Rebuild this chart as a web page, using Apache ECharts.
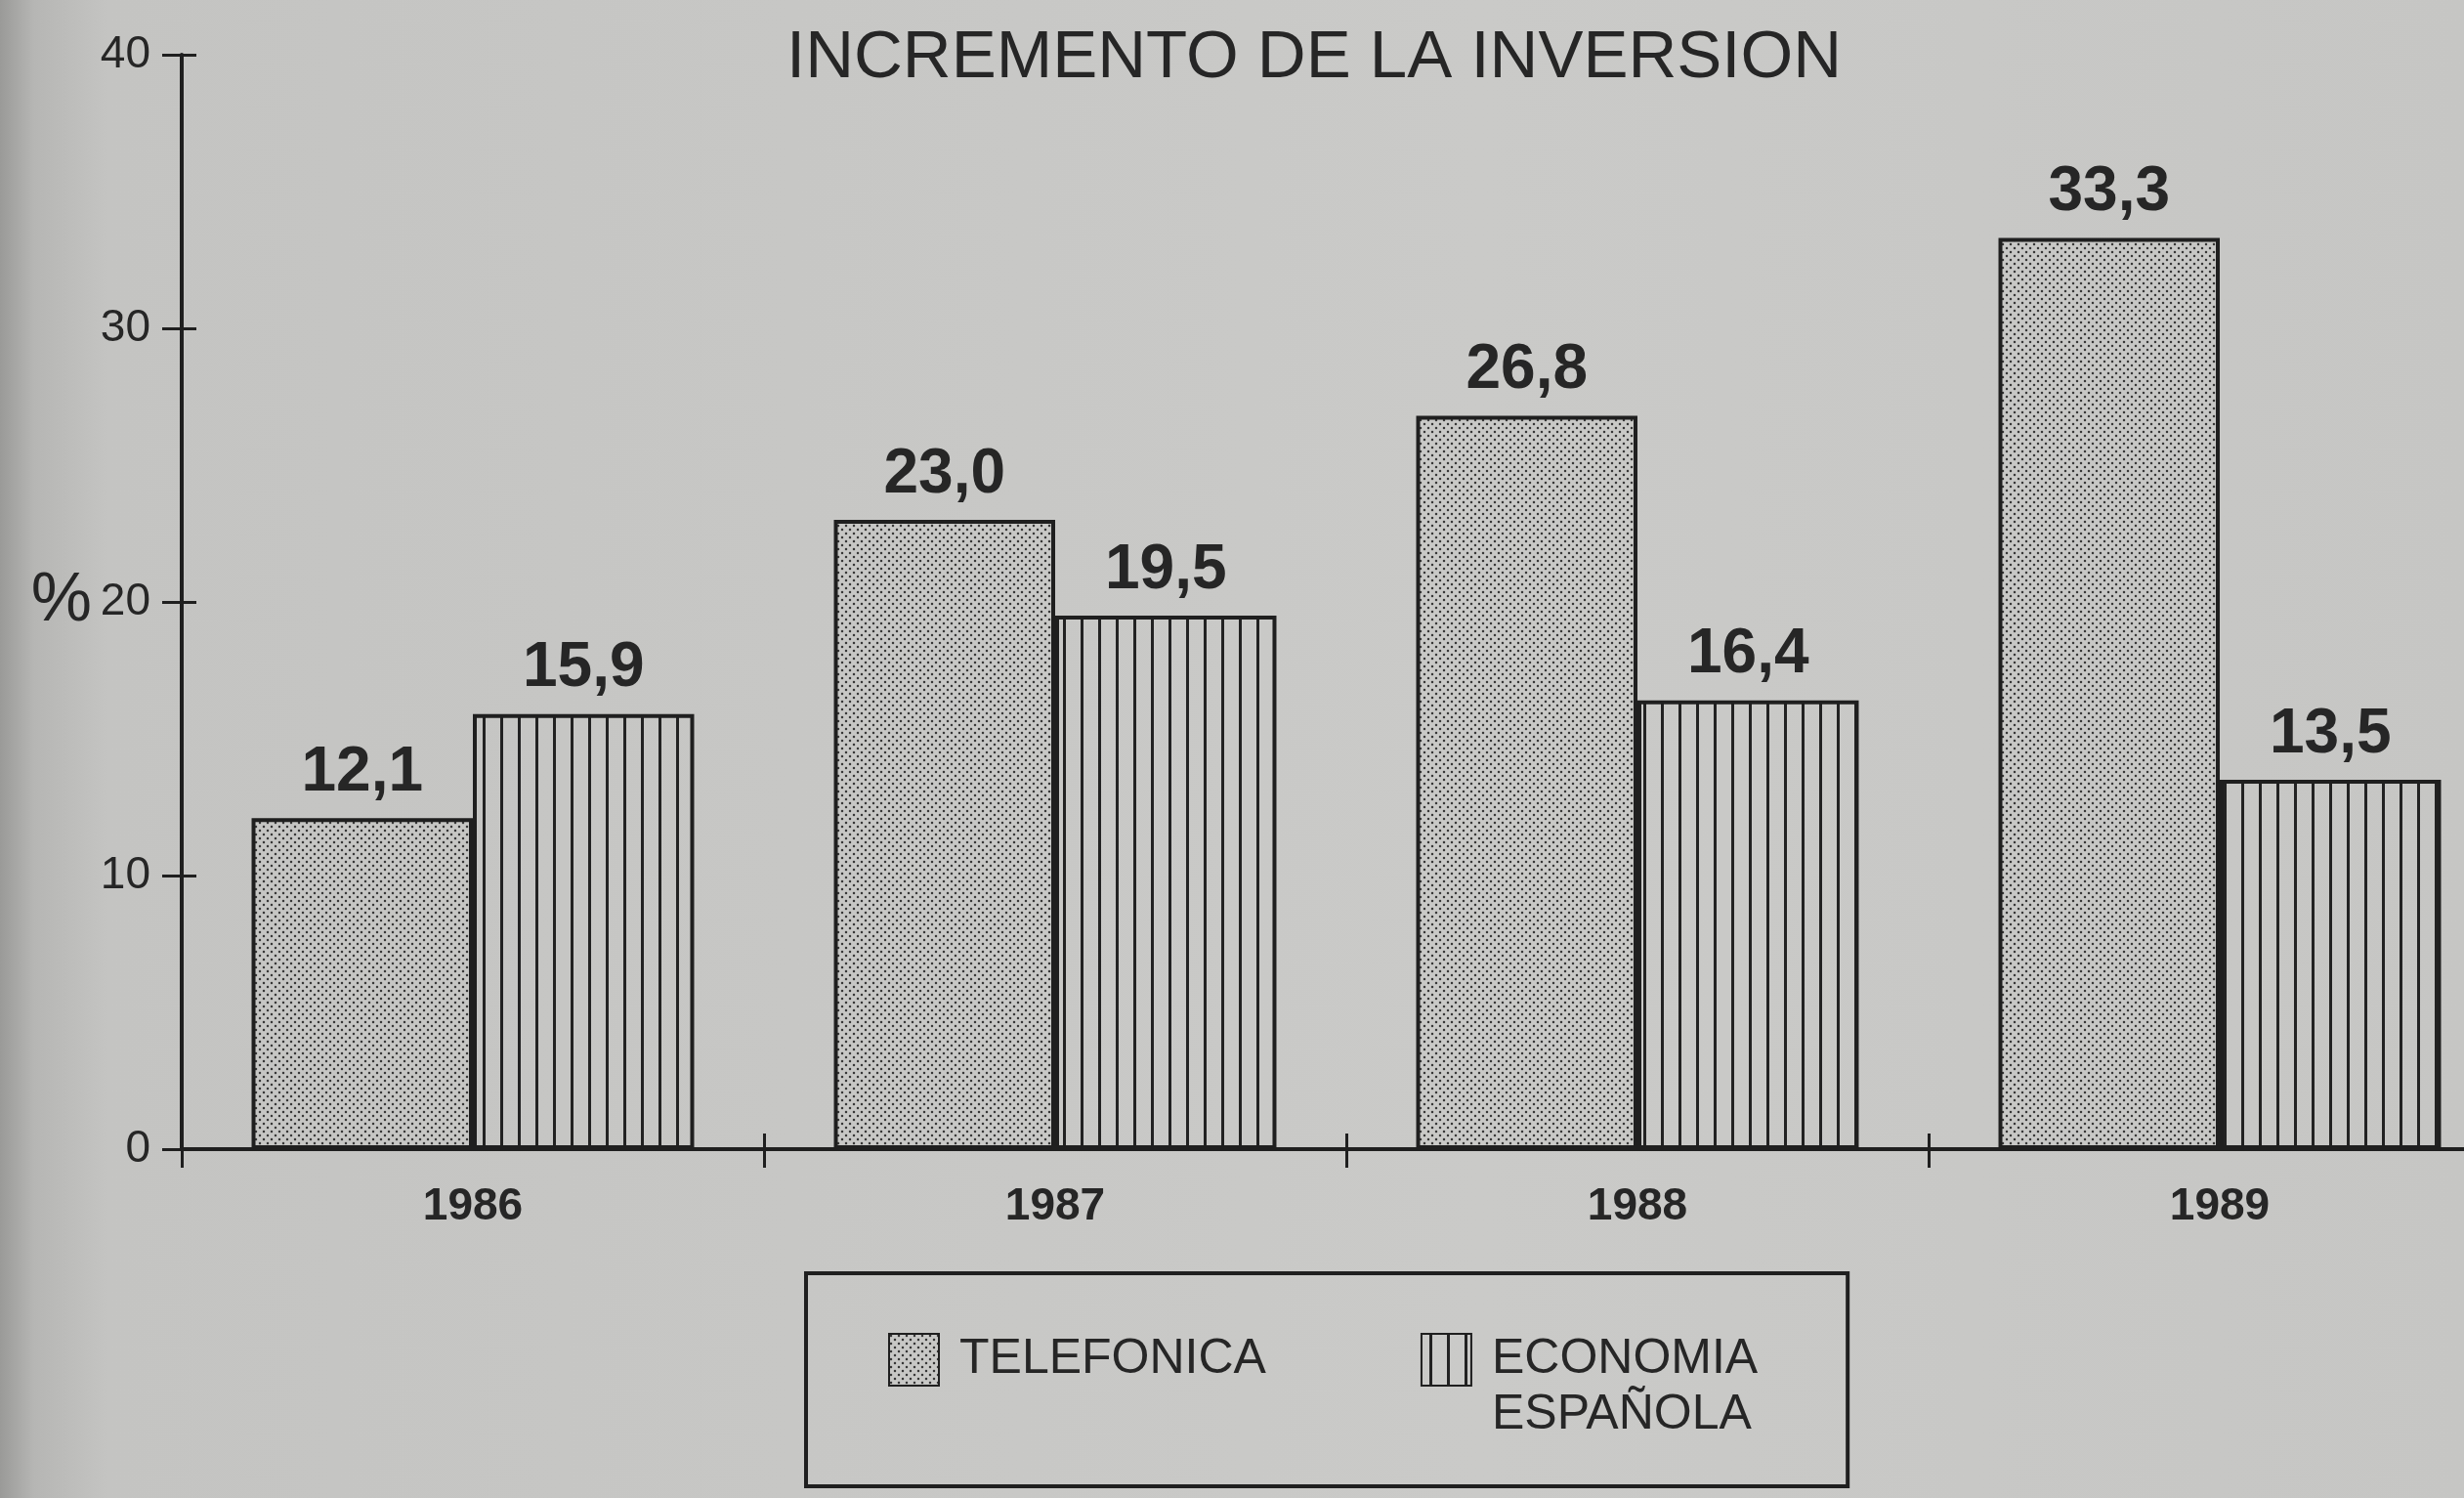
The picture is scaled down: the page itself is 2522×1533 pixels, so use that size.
<!DOCTYPE html>
<html>
<head>
<meta charset="utf-8">
<title>Incremento de la inversion</title>
<script src="https://cdn.jsdelivr.net/npm/echarts@6/dist/echarts.min.js"></script>
<style>
  html, body { margin: 0; padding: 0; }
  body {
    background: linear-gradient(to right, #9a9a98 0px, #b6b6b4 35px, #c4c4c2 110px, #cacac8 60%, #c6c6c4 100%);
  }
  #chart { width: 2522px; height: 1533px; }
</style>
</head>
<body>
<div id="chart"></div>
<script>
// data
var years = ['1986', '1987', '1988', '1989']
var telefonica = [12.1, 23.0, 26.8, 33.3]
var economia = [15.9, 19.5, 16.4, 13.5]
var yTicks = [0, 10, 20, 30, 40]

var ink = '#1f1f1f'
var font = 'Liberation Sans, Arial, sans-serif'

// stipple fill for Telefonica
function dotPattern() {
  var c = document.createElement('canvas')
  c.width = 8
  c.height = 8
  var ctx = c.getContext('2d')
  ctx.fillStyle = 'rgba(200,200,198,0.35)'
  ctx.fillRect(0, 0, 8, 8)
  ctx.fillStyle = '#383838'
  ctx.beginPath(); ctx.arc(2, 2, 1.25, 0, Math.PI * 2); ctx.fill()
  ctx.beginPath(); ctx.arc(6, 6, 1.25, 0, Math.PI * 2); ctx.fill()
  return c
}

// vertical hatching for Economia
function linePattern() {
  var c = document.createElement('canvas')
  c.width = 18
  c.height = 4
  var ctx = c.getContext('2d')
  ctx.fillStyle = '#222'
  ctx.fillRect(8, 0, 3, 4)
  return c
}

function fmtValue(p) {
  return p.value.toFixed(1).replace('.', ',')
}

var chart = echarts.init(document.getElementById('chart'), null, { renderer: 'canvas' })

chart.setOption({
  backgroundColor: 'transparent',
  animation: false,
  title: {
    text: 'INCREMENTO DE LA INVERSION',
    left: 1340,
    textAlign: 'center',
    top: 20,
    textStyle: { fontFamily: font, fontSize: 69, fontWeight: 'normal', color: '#262626' }
  },
  // the print runs the last band off the page edge
  grid: { left: 186, width: 2384, top: 56, bottom: 357, outerBoundsMode: 'none' },
  legend: {
    left: 825,
    top: 1303,
    orient: 'horizontal',
    selectedMode: false,
    icon: 'rect',
    itemWidth: 51,
    itemHeight: 53,
    itemGap: 158,
    padding: [3, 92, 44, 84],
    borderColor: ink,
    borderWidth: 4,
    // an empty first line keeps ECONOMIA level with its swatch, as in the print
    formatter: function (name) {
      var lines = name.split('\n').map(function (s) { return '{t|' + s + '}' })
      if (lines.length > 1) lines.unshift('{t| }')
      return lines.join('\n')
    },
    textStyle: {
      fontFamily: font, fontSize: 50, color: '#262626', lineHeight: 57,
      rich: {
        t: { fontFamily: font, fontSize: 50, color: '#262626', lineHeight: 57, padding: [0, 0, 0, 16] }
      }
    },
    data: ['TELEFONICA', 'ECONOMIA\nESPAÑOLA']
  },
  xAxis: [{
    type: 'category',
    data: years,
    position: 'bottom',
    axisLine: { lineStyle: { color: ink, width: 4 } },
    axisTick: { show: true, length: 19, lineStyle: { color: ink, width: 3 } },
    axisLabel: { fontFamily: font, fontSize: 46, fontWeight: 'bold', color: '#262626', margin: 36 }
  }, {
    type: 'category',
    data: years,
    position: 'bottom',
    axisLine: { show: true, lineStyle: { color: ink, opacity: 0 } },
    axisTick: { show: true, inside: true, length: 16, lineStyle: { color: ink, width: 3, opacity: 1 } },
    axisLabel: { show: false }
  }],
  yAxis: [{
    type: 'value',
    min: yTicks[0],
    max: yTicks[yTicks.length - 1],
    interval: 10,
    name: '%',
    nameLocation: 'middle',
    nameRotate: 0,
    nameGap: 92,
    nameTextStyle: { fontFamily: font, fontSize: 70, color: '#262626' },
    axisLine: { show: true, lineStyle: { color: ink, width: 4 } },
    axisTick: { show: true, length: 20, lineStyle: { color: ink, width: 3 } },
    axisLabel: { fontFamily: font, fontSize: 46, color: '#262626', margin: 32 },
    splitLine: { show: false }
  }, {
    type: 'value',
    min: yTicks[0],
    max: yTicks[yTicks.length - 1],
    interval: 10,
    position: 'left',
    axisLine: { show: true, lineStyle: { color: ink, opacity: 0 } },
    axisTick: { show: true, inside: true, length: 15, lineStyle: { color: ink, width: 3, opacity: 1 } },
    axisLabel: { show: false },
    splitLine: { show: false }
  }],
  series: [{
    name: 'TELEFONICA',
    type: 'bar',
    data: telefonica,
    barWidth: '38%',
    barGap: '0%',
    itemStyle: {
      color: { image: dotPattern(), repeat: 'repeat' },
      borderColor: ink,
      borderWidth: 4
    },
    label: {
      show: true,
      position: 'top',
      distance: 14,
      fontFamily: font,
      fontSize: 64,
      fontWeight: 'bold',
      color: '#262626',
      formatter: fmtValue
    }
  }, {
    name: 'ECONOMIA\nESPAÑOLA',
    type: 'bar',
    data: economia,
    barWidth: '38%',
    itemStyle: {
      color: { image: linePattern(), repeat: 'repeat' },
      borderColor: ink,
      borderWidth: 4
    },
    label: {
      show: true,
      position: 'top',
      distance: 14,
      fontFamily: font,
      fontSize: 64,
      fontWeight: 'bold',
      color: '#262626',
      formatter: fmtValue
    }
  }]
})
</script>
</body>
</html>
